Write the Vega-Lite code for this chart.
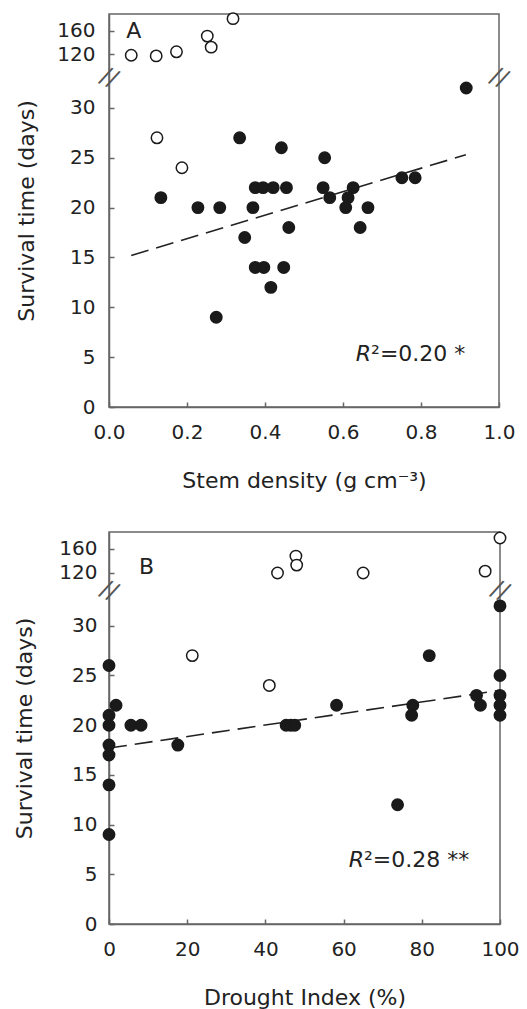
{
  "$schema": "https://vega.github.io/schema/vega-lite/v6.json",
  "padding": {"left": 13, "top": 9, "right": 0, "bottom": 0},
  "spacing": 36,
  "config": {
    "font": "DejaVu Sans",
    "view": {"stroke": "#666", "strokeWidth": 1.5},
    "axis": {
      "grid": false,
      "tickSize": -5,
      "tickColor": "#666",
      "tickWidth": 1.5,
      "domainColor": "#666",
      "domainWidth": 1.5,
      "labelFontSize": 20,
      "labelColor": "#222",
      "labelOverlap": false,
      "labelFlush": false,
      "titleFontSize": 22,
      "titleFontWeight": "normal",
      "titleColor": "#222"
    },
    "axisY": {"labelPadding": 19, "titlePadding": 18},
    "axisX": {"labelPadding": 20, "titlePadding": 28}
  },
  "datasets": {
    "ptsA": [
      {"x": 0.057, "y": 118, "type": "open"},
      {"x": 0.121, "y": 117, "type": "open"},
      {"x": 0.173, "y": 124, "type": "open"},
      {"x": 0.252, "y": 151, "type": "open"},
      {"x": 0.262, "y": 132, "type": "open"},
      {"x": 0.318, "y": 181, "type": "open"},
      {"x": 0.123, "y": 27, "type": "open"},
      {"x": 0.187, "y": 24, "type": "open"},
      {"x": 0.133, "y": 21, "type": "filled"},
      {"x": 0.228, "y": 20, "type": "filled"},
      {"x": 0.284, "y": 20, "type": "filled"},
      {"x": 0.335, "y": 27, "type": "filled"},
      {"x": 0.348, "y": 17, "type": "filled"},
      {"x": 0.369, "y": 20, "type": "filled"},
      {"x": 0.375, "y": 22, "type": "filled"},
      {"x": 0.395, "y": 22, "type": "filled"},
      {"x": 0.421, "y": 22, "type": "filled"},
      {"x": 0.455, "y": 22, "type": "filled"},
      {"x": 0.442, "y": 26, "type": "filled"},
      {"x": 0.461, "y": 18, "type": "filled"},
      {"x": 0.375, "y": 14, "type": "filled"},
      {"x": 0.397, "y": 14, "type": "filled"},
      {"x": 0.448, "y": 14, "type": "filled"},
      {"x": 0.415, "y": 12, "type": "filled"},
      {"x": 0.275, "y": 9, "type": "filled"},
      {"x": 0.553, "y": 25, "type": "filled"},
      {"x": 0.549, "y": 22, "type": "filled"},
      {"x": 0.566, "y": 21, "type": "filled"},
      {"x": 0.626, "y": 22, "type": "filled"},
      {"x": 0.613, "y": 21, "type": "filled"},
      {"x": 0.607, "y": 20, "type": "filled"},
      {"x": 0.664, "y": 20, "type": "filled"},
      {"x": 0.644, "y": 18, "type": "filled"},
      {"x": 0.751, "y": 23, "type": "filled"},
      {"x": 0.785, "y": 23, "type": "filled"},
      {"x": 0.916, "y": 32, "type": "filled"}
    ],
    "fitA": [{"x": 0.057, "y": 15.2}, {"x": 0.915, "y": 25.3}],
    "ptsB": [
      {"x": 43.1, "y": 120, "type": "open"},
      {"x": 47.8, "y": 148, "type": "open"},
      {"x": 48.0, "y": 133, "type": "open"},
      {"x": 65.0, "y": 120, "type": "open"},
      {"x": 96.2, "y": 123, "type": "open"},
      {"x": 100, "y": 178, "type": "open"},
      {"x": 21.3, "y": 27, "type": "open"},
      {"x": 41.0, "y": 24, "type": "open"},
      {"x": 0, "y": 26, "type": "filled"},
      {"x": 0, "y": 21, "type": "filled"},
      {"x": 0, "y": 20, "type": "filled"},
      {"x": 0, "y": 18, "type": "filled"},
      {"x": 0, "y": 17, "type": "filled"},
      {"x": 0, "y": 14, "type": "filled"},
      {"x": 0, "y": 9, "type": "filled"},
      {"x": 1.8, "y": 22, "type": "filled"},
      {"x": 5.6, "y": 20, "type": "filled"},
      {"x": 8.2, "y": 20, "type": "filled"},
      {"x": 17.6, "y": 18, "type": "filled"},
      {"x": 45.3, "y": 20, "type": "filled"},
      {"x": 46.5, "y": 20, "type": "filled"},
      {"x": 47.5, "y": 20, "type": "filled"},
      {"x": 58.2, "y": 22, "type": "filled"},
      {"x": 77.7, "y": 22, "type": "filled"},
      {"x": 77.4, "y": 21, "type": "filled"},
      {"x": 73.8, "y": 12, "type": "filled"},
      {"x": 81.9, "y": 27, "type": "filled"},
      {"x": 94.0, "y": 23, "type": "filled"},
      {"x": 95.0, "y": 22, "type": "filled"},
      {"x": 100, "y": 32, "type": "filled"},
      {"x": 100, "y": 25, "type": "filled"},
      {"x": 100, "y": 23, "type": "filled"},
      {"x": 100, "y": 22, "type": "filled"},
      {"x": 100, "y": 21, "type": "filled"}
    ],
    "fitB": [{"x": 0, "y": 17.7}, {"x": 100, "y": 23.5}]
  },
  "vconcat": [
    {
      "width": 390,
      "height": 393,
      "encoding": {
        "x": {
          "field": "x", "type": "quantitative",
          "title": "Stem density (g cm⁻³)",
          "scale": {"domain": [0, 1], "nice": false, "zero": false},
          "axis": {"values": [0, 0.2, 0.4, 0.6, 0.8, 1.0], "format": ".1f"}
        },
        "y": {
          "field": "y", "type": "quantitative",
          "title": "Survival time (days)",
          "scale": {"domain": [0, 33, 79, 189], "range": [393, 64, 64, 0], "nice": false, "zero": false},
          "axis": {"values": [0, 5, 10, 15, 20, 25, 30, 120, 160]}
        }
      },
      "layer": [
        {
          "data": {"name": "fitA"},
          "mark": {"type": "line", "strokeDash": [18, 8], "color": "#222", "strokeWidth": 1.6}
        },
        {
          "data": {"name": "ptsA"},
          "mark": {"type": "circle", "size": 130, "opacity": 1, "stroke": "#1a1a1a", "strokeWidth": 1.5},
          "encoding": {
            "fill": {"field": "type", "type": "nominal", "scale": {"domain": ["filled", "open"], "range": ["#1a1a1a", "white"]}, "legend": null}
          }
        },
        {
          "data": {"values": [{"x": 0, "y": 50}, {"x": 1, "y": 50}]},
          "mark": {"type": "text", "text": "//", "fontSize": 24, "angle": 25, "align": "center", "baseline": "middle", "color": "#555"}
        },
        {
          "data": {"values": [{"x": 0.044, "y": 160}]},
          "mark": {"type": "text", "text": "A", "fontSize": 22, "align": "left", "baseline": "middle", "color": "#222"}
        },
        {
          "data": {"values": [{"x": 0.672, "y": 5.35}]},
          "mark": {"type": "text", "text": "R", "fontSize": 22, "fontStyle": "italic", "align": "right", "baseline": "middle", "color": "#222"}
        },
        {
          "data": {"values": [{"x": 0.672, "y": 5.35}]},
          "mark": {"type": "text", "text": "²=0.20 *", "fontSize": 22, "align": "left", "baseline": "middle", "color": "#222"}
        }
      ]
    },
    {
      "width": 391,
      "height": 392,
      "encoding": {
        "x": {
          "field": "x", "type": "quantitative",
          "title": "Drought Index (%)",
          "scale": {"domain": [0, 100], "nice": false, "zero": false},
          "axis": {"values": [0, 20, 40, 60, 80, 100]}
        },
        "y": {
          "field": "y", "type": "quantitative",
          "title": "Survival time (days)",
          "scale": {"domain": [0, 33.5, 90, 188], "range": [392, 59, 59, 0], "nice": false, "zero": false},
          "axis": {"values": [0, 5, 10, 15, 20, 25, 30, 120, 160], "labelPadding": 17, "titlePadding": 22}
        }
      },
      "layer": [
        {
          "data": {"name": "fitB"},
          "mark": {"type": "line", "strokeDash": [18, 8], "color": "#222", "strokeWidth": 1.6}
        },
        {
          "data": {"name": "ptsB"},
          "mark": {"type": "circle", "size": 130, "opacity": 1, "stroke": "#1a1a1a", "strokeWidth": 1.5},
          "encoding": {
            "fill": {"field": "type", "type": "nominal", "scale": {"domain": ["filled", "open"], "range": ["#1a1a1a", "white"]}, "legend": null}
          }
        },
        {
          "data": {"values": [{"x": 0, "y": 60}, {"x": 100, "y": 60}]},
          "mark": {"type": "text", "text": "//", "fontSize": 24, "angle": 25, "align": "center", "baseline": "middle", "color": "#555"}
        },
        {
          "data": {"values": [{"x": 7.7, "y": 130}]},
          "mark": {"type": "text", "text": "B", "fontSize": 22, "align": "left", "baseline": "middle", "color": "#222"}
        },
        {
          "data": {"values": [{"x": 65.2, "y": 6.4}]},
          "mark": {"type": "text", "text": "R", "fontSize": 22, "fontStyle": "italic", "align": "right", "baseline": "middle", "color": "#222"}
        },
        {
          "data": {"values": [{"x": 65.2, "y": 6.4}]},
          "mark": {"type": "text", "text": "²=0.28 **", "fontSize": 22, "align": "left", "baseline": "middle", "color": "#222"}
        }
      ]
    }
  ]
}
